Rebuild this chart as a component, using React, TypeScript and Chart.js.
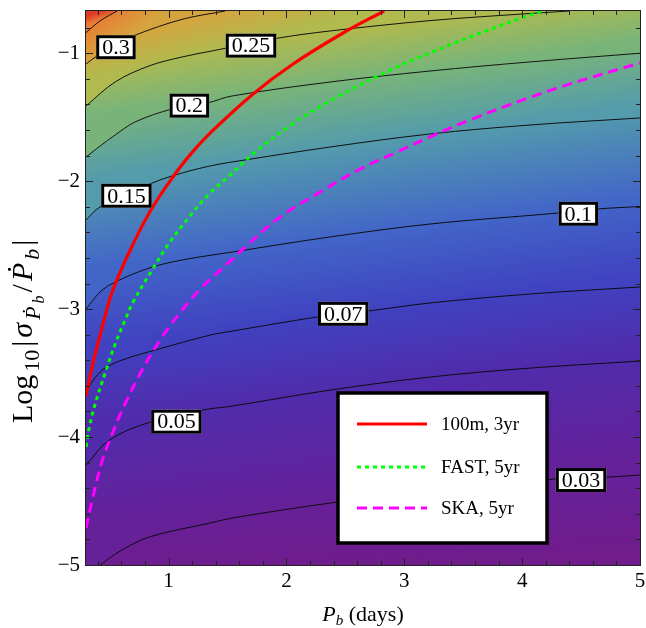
import React, { useEffect, useRef } from 'react';
import { Chart, registerables } from 'chart.js';

Chart.register(...registerables);

const X_MIN = 0.3;
const X_MAX = 5;
const Y_MIN = -5;
const Y_MAX = -0.67;

// contour lines (levels 0.35 ... 0.03)
const c035X = [0.3, 0.42, 0.565];
const c035Y = [-0.839, -0.747, -0.67];
const c030X = [0.3, 0.395, 0.554, 0.717, 1.116, 1.48];
const c030Y = [-1.084, -1.021, -0.937, -0.859, -0.735, -0.67];
const c025X = [0.3, 0.548, 0.836, 1.116, 1.353, 1.922, 2.371, 3.219, 4.008, 4.4];
const c025Y = [-1.412, -1.224, -1.099, -1.029, -0.985, -0.883, -0.826, -0.745, -0.693, -0.67];
const c020X = [0.3, 0.42, 0.548, 0.717, 1.031, 1.328, 1.54, 2.371, 3.219, 4.067, 5];
const c020Y = [-1.811, -1.725, -1.639, -1.537, -1.436, -1.389, -1.334, -1.225, -1.139, -1.068, -1.0];
const c015X = [0.3, 0.42, 0.862, 1.116, 1.353, 1.54, 2.371, 3.219, 4.067, 5];
const c015Y = [-2.303, -2.201, -2.014, -1.936, -1.881, -1.85, -1.733, -1.631, -1.561, -1.506];
const c010X = [0.3, 0.42, 0.548, 0.836, 1.116, 1.54, 2.371, 3.219, 4.305, 4.644, 5];
const c010Y = [-3.0, -2.866, -2.788, -2.679, -2.616, -2.554, -2.436, -2.335, -2.249, -2.217, -2.198];
const c007X = [0.3, 0.437, 0.607, 0.887, 1.353, 1.54, 2.261, 2.693, 3.219, 4.067, 5];
const c007Y = [-3.633, -3.477, -3.398, -3.32, -3.203, -3.172, -3.062, -3.015, -2.952, -2.882, -2.827];
const c005X = [0.3, 0.497, 0.845, 1.286, 1.54, 2.371, 3.219, 4.067, 5];
const c005Y = [-4.219, -4.024, -3.883, -3.789, -3.758, -3.633, -3.531, -3.461, -3.406];
const c003X = [0.42, 0.59, 0.836, 1.353, 1.54, 2.431, 3.219, 4.28, 4.721, 5];
const c003Y = [-5.0, -4.891, -4.781, -4.672, -4.633, -4.508, -4.422, -4.328, -4.313, -4.297];

// detection curves
const redX = [0.3, 0.353, 0.42, 0.471, 0.522, 0.632, 0.836, 1.056, 1.201, 1.353, 1.718, 2.057, 2.481, 2.829];
const redY = [-3.679, -3.445, -3.203, -3.023, -2.866, -2.624, -2.249, -1.944, -1.775, -1.624, -1.318, -1.084, -0.842, -0.67];
const fastX = [0.3, 0.327, 0.378, 0.463, 0.548, 0.632, 0.7, 0.861, 1.006, 1.175, 1.345, 1.514, 1.718, 2.057, 2.431, 2.795, 3.135, 3.559, 3.983, 4.178];
const fastY = [-4.077, -3.928, -3.741, -3.498, -3.272, -3.084, -2.944, -2.694, -2.483, -2.28, -2.1, -1.959, -1.787, -1.549, -1.342, -1.17, -1.029, -0.873, -0.728, -0.67];
const skaX = [0.3, 0.353, 0.437, 0.522, 0.632, 0.776, 0.946, 1.116, 1.286, 1.506, 1.65, 1.947, 2.286, 2.626, 2.939, 3.219, 3.559, 3.983, 4.407, 5.0];
const skaY = [-4.711, -4.492, -4.187, -3.976, -3.741, -3.476, -3.218, -3.007, -2.827, -2.64, -2.515, -2.28, -2.085, -1.905, -1.772, -1.654, -1.521, -1.373, -1.24, -1.076];

const legendLabels = ['100m, 3yr', 'FAST, 5yr', 'SKA, 5yr'];

// contour labels
const labelTexts = ['0.3', '0.25', '0.2', '0.15', '0.1', '0.07', '0.05', '0.03'];
const labelX = [0.554, 1.7, 1.177, 0.643, 4.477, 2.482, 1.067, 4.5];
const labelY = [-0.953, -0.941, -1.41, -2.114, -2.255, -3.037, -3.88, -4.336];

// ticks
const xMajor = [1, 2, 3, 4, 5];
const xMinor = [0.4, 0.6, 0.8, 1.2, 1.4, 1.6, 1.8, 2.2, 2.4, 2.6, 2.8, 3.2, 3.4, 3.6, 3.8, 4.2, 4.4, 4.6, 4.8];
const yMajor = [-5, -4, -3, -2, -1];
const yMinor = [-4.8, -4.6, -4.4, -4.2, -3.8, -3.6, -3.4, -3.2, -2.8, -2.6, -2.4, -2.2, -1.8, -1.6, -1.4, -1.2, -0.8];

// colours at each contour level (0.35 ... 0.03)
const levelColors = [
  'rgb(229,128,52)',
  'rgb(214,164,62)',
  'rgb(176,186,78)',
  'rgb(120,180,122)',
  'rgb(84,155,172)',
  'rgb(66,102,200)',
  'rgb(64,66,192)',
  'rgb(80,44,172)',
  'rgb(102,32,152)',
];
const cornerColor = 'rgb(222,58,40)';
const floorColor = 'rgb(112,28,140)';

type Line = { x: number[]; y: number[] } | null;

const contourLines = [
  { x: c035X, y: c035Y },
  { x: c030X, y: c030Y },
  { x: c025X, y: c025Y },
  { x: c020X, y: c020Y },
  { x: c015X, y: c015Y },
  { x: c010X, y: c010Y },
  { x: c007X, y: c007Y },
  { x: c005X, y: c005Y },
  { x: c003X, y: c003Y },
];

function interpY(line: { x: number[]; y: number[] }, x: number): number {
  const xs = line.x;
  const ys = line.y;
  if (x <= xs[0]) return ys[0];
  for (let i = 1; i < xs.length; i++) {
    if (x <= xs[i]) {
      const t = (x - xs[i - 1]) / (xs[i] - xs[i - 1]);
      return ys[i - 1] + t * (ys[i] - ys[i - 1]);
    }
  }
  return ys[ys.length - 1];
}

function bandFill(top: Line, bottom: Line, cTop: string, cBot: string) {
  return (context: any) => {
    const chart = context.chart;
    if (!chart.chartArea || !chart.scales.x || !chart.scales.y) return cTop;
    const xs = chart.scales.x;
    const ys = chart.scales.y;
    const dom = (l: Line) => (l ? [l.x[0], l.x[l.x.length - 1]] : [X_MIN, X_MAX]);
    const [t0, t1] = dom(top);
    const [b0, b1] = dom(bottom);
    const lo = Math.max(t0, b0);
    const hi = Math.min(t1, b1);
    let xa = Math.max(lo, 0.85);
    let xb = Math.min(hi, X_MAX);
    if (xa >= xb) {
      xa = lo;
      xb = hi;
    }
    const yT = (x: number) => ys.getPixelForValue(top ? interpY(top, x) : Y_MAX);
    const yB = (x: number) => ys.getPixelForValue(bottom ? interpY(bottom, x) : Y_MIN);
    const pa = xs.getPixelForValue(xa);
    const pb = xs.getPixelForValue(xb);
    const s = ((yT(xb) - yT(xa)) + (yB(xb) - yB(xa))) / 2 / (pb - pa);
    const r = (xa + xb) / 2;
    const x0 = xs.getPixelForValue(r);
    const y0 = yT(r);
    const h = yB(r) - y0;
    const norm = Math.sqrt(1 + s * s);
    const d = h / norm;
    const g = chart.ctx.createLinearGradient(x0, y0, x0 + (-s / norm) * d, y0 + (1 / norm) * d);
    g.addColorStop(0, cTop);
    g.addColorStop(1, cBot);
    return g;
  };
}

const pts = (xs: number[], ys: number[]) => xs.map((x, i) => ({ x, y: ys[i] }));

function contourDs(line: { x: number[]; y: number[] }, fill: string, bg: any, order: number, drawLine = true) {
  return {
    data: pts(line.x, line.y),
    showLine: true,
    pointRadius: 0,
    borderColor: drawLine ? 'rgba(10,10,10,0.95)' : 'rgba(0,0,0,0)',
    borderWidth: 1,
    fill,
    backgroundColor: bg,
    order,
    tension: 0.35,
  };
}

const fmt = (v: number) => (v < 0 ? '\u2212' + Math.abs(v) : String(v));

type Part = { t: string; size: number; italic?: boolean; dy?: number };
const partFont = (p: Part) => `${p.italic ? 'italic ' : ''}${p.size}px "Liberation Serif", "DejaVu Serif", serif`;

function drawRich(ctx: CanvasRenderingContext2D, parts: Part[], x0: number, y: number, anchor: 'center' | 'start', gap = 0) {
  let total = 0;
  const widths = parts.map((p) => {
    ctx.font = partFont(p);
    const w = ctx.measureText(p.t).width;
    total += w;
    return w;
  });
  total += gap * (parts.length - 1);
  let x = anchor === 'center' ? x0 - total / 2 : x0;
  ctx.textAlign = 'left';
  ctx.textBaseline = 'alphabetic';
  parts.forEach((p, i) => {
    ctx.font = partFont(p);
    ctx.fillText(p.t, x, y + (p.dy || 0));
    x += widths[i] + gap;
  });
}

const decorPlugin = {
  id: 'decor',
  afterDatasetsDraw(chart: any) {
    const { ctx, chartArea: a } = chart;
    const xs = chart.scales.x;
    const ys = chart.scales.y;
    ctx.save();

    // contour labels
    ctx.font = '22px "Liberation Serif", serif';
    ctx.textAlign = 'center';
    ctx.textBaseline = 'middle';
    labelTexts.forEach((t, i) => {
      const cx = xs.getPixelForValue(labelX[i]);
      const cy = ys.getPixelForValue(labelY[i]);
      const w = ctx.measureText(t).width + 12;
      const h = 24;
      ctx.fillStyle = '#fff';
      ctx.fillRect(cx - w / 2, cy - h / 2, w, h);
      ctx.lineWidth = 3;
      ctx.strokeStyle = '#000';
      ctx.strokeRect(cx - w / 2 + 1.5, cy - h / 2 + 1.5, w - 3, h - 3);
      ctx.fillStyle = '#000';
      ctx.fillText(t, cx, cy + 1);
    });

    // frame and inward ticks
    ctx.strokeStyle = '#222';
    ctx.lineWidth = 1;
    ctx.strokeRect(a.left - 0.5, a.top - 0.5, a.right - a.left + 1, a.bottom - a.top + 1);
    const seg = (x1: number, y1: number, x2: number, y2: number) => {
      ctx.beginPath();
      ctx.moveTo(x1, y1);
      ctx.lineTo(x2, y2);
      ctx.stroke();
    };
    const drawX = (vals: number[], len: number) =>
      vals.forEach((v) => {
        const p = Math.round(xs.getPixelForValue(v)) + 0.5;
        seg(p, a.bottom, p, a.bottom - len);
        seg(p, a.top, p, a.top + len);
      });
    const drawY = (vals: number[], len: number) =>
      vals.forEach((v) => {
        const p = Math.round(ys.getPixelForValue(v)) + 0.5;
        seg(a.left, p, a.left + len, p);
        seg(a.right, p, a.right - len, p);
      });
    drawX(xMajor, 7);
    drawX(xMinor, 4);
    drawY(yMajor, 7);
    drawY(yMinor, 4);

    // legend
    const items = chart.data.datasets.filter((d: any) => d.label);
    const lx = a.left + 252;
    const ly = a.top + 382;
    const lw = 209;
    const lh = 150;
    ctx.fillStyle = '#fff';
    ctx.fillRect(lx, ly, lw, lh);
    ctx.lineWidth = 3.5;
    ctx.strokeStyle = '#000';
    ctx.strokeRect(lx, ly, lw, lh);
    const rowY = [31, 74, 115];
    items.forEach((d: any, i: number) => {
      const yy = ly + rowY[i];
      ctx.save();
      ctx.strokeStyle = d.borderColor;
      ctx.lineWidth = d.borderWidth;
      ctx.setLineDash(d.borderDash || []);
      seg(lx + 19, yy, lx + 89, yy);
      ctx.restore();
      ctx.fillStyle = '#000';
      ctx.font = '19px "Liberation Serif", serif';
      ctx.textAlign = 'left';
      ctx.textBaseline = 'middle';
      ctx.fillText(d.label, lx + 103, yy + 1);
    });
    ctx.restore();
  },
  afterDraw(chart: any) {
    const { ctx, chartArea: a } = chart;
    ctx.save();
    ctx.fillStyle = '#000';
    drawRich(
      ctx,
      [
        { t: 'P', size: 22, italic: true },
        { t: 'b', size: 15, italic: true, dy: 4 },
        { t: ' (days)', size: 22 },
      ],
      (a.left + a.right) / 2,
      621,
      'center',
    );
    ctx.translate(32, 423);
    ctx.rotate(-Math.PI / 2);
    drawRich(
      ctx,
      [
        { t: 'Log', size: 30 },
        { t: '10', size: 22, dy: 7 },
        { t: '|', size: 30 },
        { t: 'σ', size: 30, italic: true },
        { t: 'Ṗ', size: 22, italic: true, dy: 8 },
        { t: 'b', size: 16, italic: true, dy: 12 },
        { t: '/', size: 30 },
        { t: 'Ṗ', size: 30, italic: true },
        { t: 'b', size: 22, italic: true, dy: 7 },
        { t: '|', size: 30 },
      ],
      0,
      0,
      'start',
      3,
    );
    ctx.restore();
  },
};

export default function App() {
  const ref = useRef<HTMLCanvasElement>(null);
  useEffect(() => {
    const canvas = ref.current;
    if (!canvas) return;
    const L = contourLines;
    const C = levelColors;
    const curve = (label: string, xs: number[], ys: number[], color: string, width: number, dash: number[], order: number) => ({
      label,
      data: pts(xs, ys),
      showLine: true,
      pointRadius: 0,
      borderColor: color,
      borderWidth: width,
      borderDash: dash,
      fill: false,
      order,
      tension: 0.4,
    });
    const datasets: any[] = [
      contourDs(L[3], 'end', bandFill(L[2], L[3], C[2], C[3]), 100, false),
      contourDs(L[2], 'end', bandFill(L[1], L[2], C[1], C[2]), 99),
      contourDs(L[1], 'end', bandFill(L[0], L[1], C[0], C[1]), 98),
      contourDs(L[0], 'end', bandFill(null, L[0], cornerColor, C[0]), 97),
      contourDs(L[3], 'start', bandFill(L[3], L[4], C[3], C[4]), 96),
      contourDs(L[4], 'start', bandFill(L[4], L[5], C[4], C[5]), 95),
      contourDs(L[5], 'start', bandFill(L[5], L[6], C[5], C[6]), 94),
      contourDs(L[6], 'start', bandFill(L[6], L[7], C[6], C[7]), 93),
      contourDs(L[7], 'start', bandFill(L[7], L[8], C[7], C[8]), 92),
      contourDs(L[8], 'start', bandFill(L[8], null, C[8], floorColor), 91),
      curve(legendLabels[0], redX, redY, 'rgb(255,0,0)', 3.2, [], 3),
      curve(legendLabels[1], fastX, fastY, 'rgb(0,255,0)', 3, [4, 4], 2),
      curve(legendLabels[2], skaX, skaY, 'rgb(255,0,255)', 3, [10, 6], 1),
    ];
    const tickFont = { family: '"Liberation Serif", serif', size: 21 };
    const chart = new Chart(canvas, {
      type: 'scatter',
      data: { datasets },
      options: {
        responsive: false,
        animation: false,
        events: [],
        layout: { padding: { left: 0, right: 6, top: 11, bottom: 0 } },
        plugins: { legend: { display: false }, tooltip: { enabled: false } },
        scales: {
          x: {
            type: 'linear',
            position: 'bottom',
            min: X_MIN,
            max: X_MAX,
            grid: { display: false, drawTicks: false },
            border: { display: false },
            ticks: { color: '#000', font: tickFont, padding: 4, autoSkip: false, maxRotation: 0, callback: (v: any) => fmt(Number(v)) },
            afterBuildTicks: (s: any) => {
              s.ticks = xMajor.map((v) => ({ value: v }));
            },
            afterFit: (s: any) => {
              s.height = 63;
              s.paddingLeft = 0;
              s.paddingRight = 0;
            },
          },
          y: {
            type: 'linear',
            position: 'left',
            min: Y_MIN,
            max: Y_MAX,
            grid: { display: false, drawTicks: false },
            border: { display: false },
            ticks: { color: '#000', font: tickFont, padding: 6, autoSkip: false, callback: (v: any) => fmt(Number(v)) },
            afterBuildTicks: (s: any) => {
              s.ticks = yMajor.map((v) => ({ value: v }));
            },
            afterFit: (s: any) => {
              s.width = 86;
              s.paddingTop = 0;
              s.paddingBottom = 0;
            },
          },
        },
      } as any,
      plugins: [decorPlugin as any],
    });
    return () => chart.destroy();
  }, []);
  return (
    <div style={{ position: 'absolute', left: 0, top: 0, width: 646, height: 628, background: '#fff' }}>
      <canvas ref={ref} width={646} height={628} style={{ display: 'block' }} />
    </div>
  );
}
